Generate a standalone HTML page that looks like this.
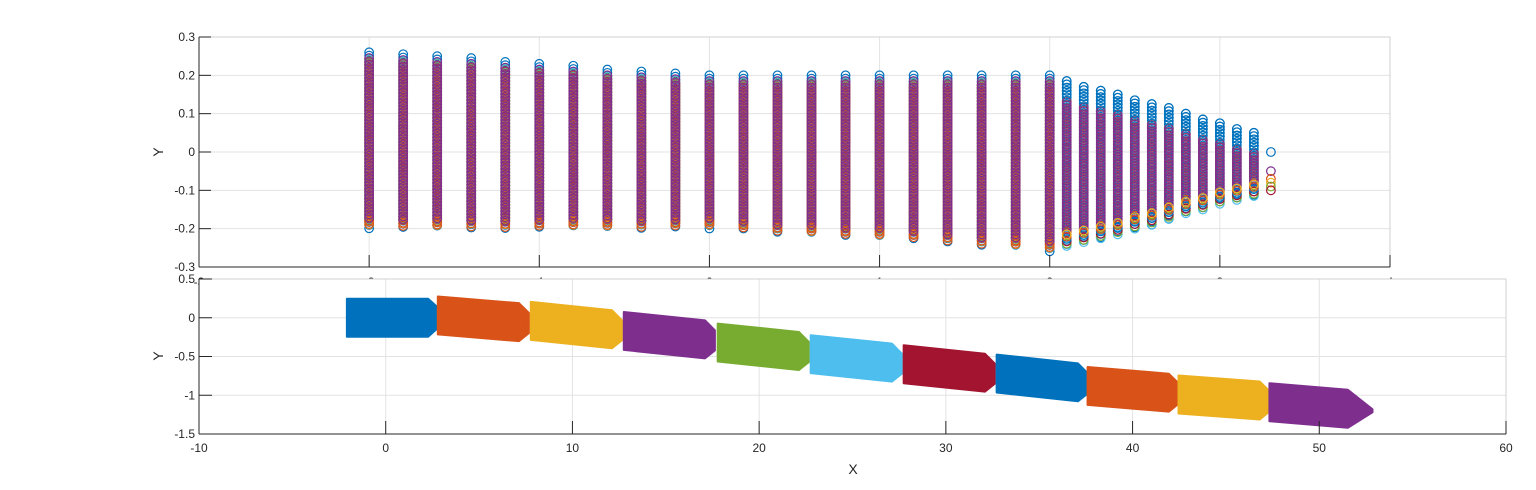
<!DOCTYPE html>
<html><head><meta charset="utf-8"><style>
body{margin:0;background:#fff;}
svg{display:block;font-family:"Liberation Sans",sans-serif;}
</style></head><body>
<svg id="chart" width="1536" height="490" xmlns="http://www.w3.org/2000/svg">
<rect x="0" y="0" width="1536" height="490" fill="#fff"/>
<g id="top"></g>
<g id="bot"></g>
</svg>
<script>
// Top chart data
const colX   = [-2,-1.8,-1.6,-1.4,-1.2,-1,-0.8,-0.6,-0.4,-0.2,0,0.2,0.4,0.6,0.8,1,1.2,1.4,1.6,1.8,2,2.1,2.2,2.3,2.4,2.5,2.6,2.7,2.8,2.9,3,3.1,3.2];
const colTop = [0.26,0.255,0.25,0.245,0.235,0.23,0.225,0.215,0.21,0.205,0.2,0.2,0.2,0.2,0.2,0.2,0.2,0.2,0.2,0.2,0.2,0.185,0.17,0.16,0.15,0.135,0.125,0.115,0.1,0.085,0.075,0.06,0.05];
const colBot = [-0.2,-0.2,-0.2,-0.2,-0.2,-0.2,-0.2,-0.2,-0.2,-0.2,-0.2,-0.205,-0.21,-0.215,-0.22,-0.225,-0.23,-0.235,-0.245,-0.25,-0.26,-0.245,-0.235,-0.225,-0.215,-0.2,-0.19,-0.175,-0.16,-0.15,-0.135,-0.125,-0.115];
const tipX = [3.3,3.3,3.3,3.3,3.3,3.3];
const tipY = [0,-0.05,-0.07,-0.08,-0.09,-0.1];
const topXTicks = [-3,-2,-1,0,1,2,3,4];
const topYTicks = [0.3,0.2,0.1,0,-0.1,-0.2,-0.3];
const topYLabels = ["0.3","0.2","0.1","0","-0.1","-0.2","-0.3"];
// Bottom chart data
const blockX0    = [-2.08,2.79,7.77,12.75,17.78,22.76,27.74,32.72,37.59,42.46,47.33];
const blockY0    = [0,0.03,-0.04,-0.17,-0.32,-0.47,-0.6,-0.72,-0.88,-0.99,-1.09];
const blockSlope = [0,-0.02,-0.025,-0.025,-0.025,-0.025,-0.025,-0.026,-0.02,-0.018,-0.02];
const botXTicks = [-10,0,10,20,30,40,50,60];
const botYTicks = [0.5,0,-0.5,-1,-1.5];
const botYLabels = ["0.5","0","-0.5","-1","-1.5"];
const colors = ["#0072BD","#D95319","#EDB120","#7E2F8E","#77AC30","#4DBEEE","#A2142F"];

const NS="http://www.w3.org/2000/svg";
function mk(p,t,a){const e=document.createElementNS(NS,t);for(const k in a)e.setAttribute(k,a[k]);p.appendChild(e);return e;}

const T={l:199,r:1390,t:37,b:267,x0:-3,x1:4,y0:-0.3,y1:0.3};
const tx=v=>T.l+(v-T.x0)/(T.x1-T.x0)*(T.r-T.l);
const ty=v=>T.b-(v-T.y0)/(T.y1-T.y0)*(T.b-T.t);
const B={l:199,r:1506,t:279,b:434,x0:-10,x1:60,y0:-1.5,y1:0.5};
const bx=v=>B.l+(v-B.x0)/(B.x1-B.x0)*(B.r-B.l);
const by=v=>B.b-(v-B.y0)/(B.y1-B.y0)*(B.b-B.t);

const gT=document.getElementById('top');
topXTicks.forEach(v=>{const e=mk(gT,'line',{x1:tx(v),x2:tx(v),y1:T.t,y2:T.b,stroke:'#e3e3e3','stroke-width':1});

});
topYTicks.forEach(v=>{const e=mk(gT,'line',{x1:T.l,x2:T.r,y1:ty(v),y2:ty(v),stroke:'#e3e3e3','stroke-width':1});

});
mk(gT,'rect',{x:T.l,y:T.t,width:T.r-T.l,height:T.b-T.t,fill:'none',stroke:'#d0d0d0'});
const gC=mk(gT,'g',{fill:'none','stroke-width':1.2});


const R=4.3, step=0.0085;
function run(x,hi,lo,c,off){for(let y=hi-off;y>=lo;y-=step){mk(gC,'circle',{cx:tx(x),cy:ty(y),r:R,stroke:colors[c]});}}
colX.forEach((x,i)=>{
  const top=colTop[i],bot=colBot[i];
  if(x<2.05){
    const order=[0,4,5,6,2,1,3];
    order.forEach((c,j)=>{
      let hi=top,lo=bot;
      if(c!==0){hi=top-0.012-j*0.003;lo=bot+(6-j)*0.004;}
      if(c===3){hi=top-0.015;lo=bot+0.02;}
      run(x,hi,lo,c,(j%2)*step/2);
    });
  } else {
    run(x,top,bot,0,0);
    run(x,top-0.05,bot+0.03,1,step/2);
    run(x,top-0.055,bot+0.035,3,0);
    [[5,0],[4,0.006],[6,0.012],[0,0.018],[1,0.024],[2,0.03]].forEach(p=>{
      mk(gC,'circle',{cx:tx(x),cy:ty(bot+p[1]),r:R,stroke:colors[p[0]]});
    });
    run(x,top,top-0.04,0,0);
  }
});
const tipC=[0,3,1,2,4,6];
tipX.forEach((x,i)=>{const e=mk(gC,'circle',{cx:tx(x),cy:ty(tipY[i]),r:R,stroke:colors[tipC[i]]});

});
mk(gT,'line',{x1:T.l,x2:T.l,y1:T.t,y2:T.b,stroke:'#262626'});
mk(gT,'line',{x1:T.l,x2:T.r,y1:T.b,y2:T.b,stroke:'#262626'});
topYTicks.forEach((v,i)=>{mk(gT,'line',{x1:T.l,x2:T.l+12,y1:ty(v),y2:ty(v),stroke:'#262626'});
const t=mk(gT,'text',{x:T.l-4,y:ty(v)+4,'text-anchor':'end','font-size':12,fill:'#262626'});t.textContent=topYLabels[i];

});
topXTicks.forEach(v=>{mk(gT,'line',{x1:tx(v),x2:tx(v),y1:T.b,y2:T.b-12,stroke:'#262626'});
const t=mk(gT,'text',{x:tx(v),y:T.b+19,'text-anchor':'middle','font-size':12,fill:'#262626'});t.textContent=String(v);

});
const yl=mk(gT,'text',{x:163,y:152,'text-anchor':'middle','font-size':14,fill:'#262626',transform:'rotate(-90 163 152)'});yl.textContent='Y';



const gB=document.getElementById('bot');
mk(gB,'rect',{x:B.l,y:B.t,width:B.r-B.l,height:B.b-B.t,fill:'#fff',stroke:'none'});
botXTicks.forEach(v=>{const e=mk(gB,'line',{x1:bx(v),x2:bx(v),y1:B.t,y2:B.b,stroke:'#e3e3e3'});

});
botYTicks.forEach(v=>{const e=mk(gB,'line',{x1:B.l,x2:B.r,y1:by(v),y2:by(v),stroke:'#e3e3e3'});

});
mk(gB,'rect',{x:B.l,y:B.t,width:B.r-B.l,height:B.b-B.t,fill:'none',stroke:'#d0d0d0'});
blockX0.forEach((x0,k)=>{
  const last=k===blockX0.length-1;
  const h=0.245;
  const local=last?[[0,h],[4.2,h],[5.52,0.02],[5.52,-0.02],[4.2,-h],[0,-h]]
                  :[[0,h],[4.35,h],[4.88,0.13],[4.88,-0.13],[4.35,-h],[0,-h]];
  const pts=local.map(p=>bx(x0+p[0])+','+by(blockY0[k]+p[1]+blockSlope[k]*p[0])).join(' ');
  const e=mk(gB,'polygon',{points:pts,fill:colors[k%7],stroke:colors[k%7],'stroke-width':2,'stroke-linejoin':'round'});
  
  
});
mk(gB,'line',{x1:B.l,x2:B.l,y1:B.t,y2:B.b,stroke:'#262626'});
mk(gB,'line',{x1:B.l,x2:B.r,y1:B.b,y2:B.b,stroke:'#262626'});
botYTicks.forEach((v,i)=>{mk(gB,'line',{x1:B.l,x2:B.l+13,y1:by(v),y2:by(v),stroke:'#262626'});
const t=mk(gB,'text',{x:B.l-4,y:by(v)+4,'text-anchor':'end','font-size':12,fill:'#262626'});t.textContent=botYLabels[i];

});
botXTicks.forEach(v=>{mk(gB,'line',{x1:bx(v),x2:bx(v),y1:B.b,y2:B.b-13,stroke:'#262626'});
const t=mk(gB,'text',{x:bx(v),y:B.b+18,'text-anchor':'middle','font-size':12,fill:'#262626'});t.textContent=String(v);

});
const yl2=mk(gB,'text',{x:163,y:356,'text-anchor':'middle','font-size':14,fill:'#262626',transform:'rotate(-90 163 356)'});yl2.textContent='Y';


const xl=mk(gB,'text',{x:853,y:474,'text-anchor':'middle','font-size':14,fill:'#262626'});xl.textContent='X';


</script>
</body></html>
